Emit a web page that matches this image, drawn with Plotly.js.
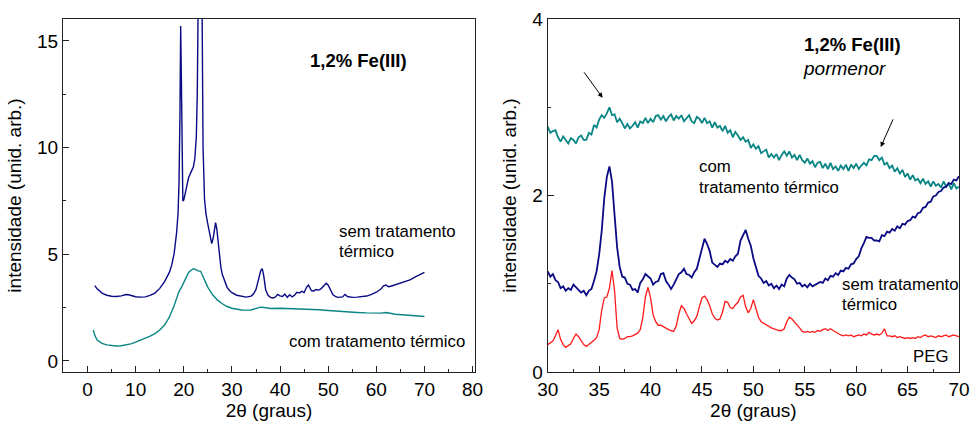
<!DOCTYPE html>
<html>
<head>
<meta charset="utf-8">
<script src="https://cdn.plot.ly/plotly-3.0.1.min.js"></script>
<style>
  html, body { margin: 0; padding: 0; background: #fff; }
  #chart { width: 970px; height: 423px; }
</style>
</head>
<body>
<div id="chart"></div>
<script>
// ---- Full pattern, 2θ from 1° to 70° ----
const fullAngleSem = [1.5,2,3,4,5,6,7,8,8.5,9,10,11,12,13,14,15,16,17,17.5,18,18.5,18.8,19.0,19.2,19.35,19.45,19.6,19.8,20.0,20.5,21.0,21.5,22.0,22.3,22.6,22.8,23.0,23.3,23.6,23.8,24.0,24.3,24.6,25.0,25.4,25.8,26.1,26.4,26.6,26.85,27.1,27.4,27.7,28.0,28.5,29,29.5,30,31,32,33,34,34.5,35,35.5,36,36.3,36.6,37.0,37.5,38,38.5,39,39.5,40,40.5,41,41.5,42,42.5,43,43.5,44,44.5,45,45.5,45.9,46.5,47,47.5,48,48.5,49,49.6,50,50.5,51,51.5,52,53,53.5,54,55,56,57,58,59,60,61,61.5,62,62.5,63,64,65,66,67,68,69,70];
const fullSem = [3.53,3.38,3.18,3.08,3.03,3.02,3.05,3.11,3.10,3.06,3.01,2.99,3.00,3.07,3.18,3.40,3.72,4.15,4.50,5.05,6.0,6.9,8.3,11.5,15.7,14.0,9.5,7.5,7.55,8.1,8.6,8.85,9.1,9.5,10.5,12.5,17,24,22,16.5,10.0,7.6,6.9,6.4,5.9,5.5,5.75,6.3,6.48,6.2,5.6,4.9,4.4,4.05,3.7,3.45,3.3,3.2,3.08,3.02,2.99,3.04,3.15,3.35,3.75,4.25,4.32,4.0,3.35,3.08,2.98,2.95,2.99,3.12,3.05,3.02,3.13,2.98,3.10,3.0,3.08,3.22,3.18,3.26,3.2,3.45,3.56,3.30,3.28,3.35,3.32,3.38,3.5,3.64,3.55,3.3,3.1,3.02,2.98,3.0,3.12,3.02,2.98,2.99,3.0,3.04,3.12,3.22,3.38,3.52,3.56,3.48,3.5,3.58,3.65,3.72,3.80,3.93,4.05,4.15];

const fullAngleCom = [1.2,1.5,2,3,4,5,6,7,8,9,10,11,12,13,14,15,16,17,18,19,19.5,20,20.5,21,21.5,22,22.5,23,23.5,24,24.5,25,26,27,28,29,30,31,32,33,34,35,36,37,38,40,42,44,46,48,50,52,54,56,58,60,61,62,63,64,66,68,70];
const fullCom = [1.45,1.2,0.98,0.82,0.75,0.71,0.70,0.71,0.75,0.80,0.88,0.97,1.06,1.16,1.28,1.45,1.68,2.05,2.6,3.25,3.45,3.7,3.95,4.15,4.25,4.32,4.28,4.22,4.2,3.95,3.68,3.45,3.1,2.85,2.68,2.55,2.47,2.42,2.39,2.38,2.39,2.46,2.52,2.49,2.46,2.47,2.46,2.45,2.44,2.40,2.36,2.32,2.29,2.27,2.25,2.23,2.24,2.27,2.22,2.19,2.15,2.12,2.08];

// ---- Detail, 2θ from 30° to 70° in steps of 0.25° (four readings per degree) ----
const detailStart = 30;
const detailStep = 0.25;
const detailCom = [
  2.78,2.71,2.73,2.74, 2.66,2.61,2.67,2.63, 2.59,2.65,2.63,2.59, 2.66,2.68,2.63,2.63,
  2.71,2.69,2.80,2.77, 2.86,2.91,2.88,2.93, 3.00,2.91,2.92,2.83, 2.87,2.82,2.76,2.81,
  2.76,2.79,2.83,2.77, 2.84,2.82,2.88,2.82, 2.87,2.83,2.90,2.91, 2.86,2.90,2.84,2.89,
  2.92,2.85,2.90,2.87, 2.91,2.84,2.88,2.91, 2.84,2.82,2.89,2.87, 2.82,2.88,2.82,2.84,
  2.77,2.83,2.77,2.79, 2.73,2.79,2.71,2.74, 2.66,2.72,2.68,2.63, 2.66,2.61,2.63,2.54,
  2.58,2.53,2.56,2.48, 2.50,2.52,2.43,2.47, 2.43,2.47,2.40,2.46, 2.50,2.45,2.50,2.43,
  2.46,2.40,2.46,2.40, 2.37,2.42,2.36,2.39, 2.32,2.37,2.38,2.31, 2.36,2.30,2.37,2.30,
  2.33,2.28,2.34,2.30, 2.35,2.28,2.35,2.31, 2.36,2.30,2.34,2.37, 2.34,2.41,2.40,2.45,
  2.45,2.40,2.43,2.35, 2.37,2.31,2.34,2.27, 2.31,2.25,2.29,2.21, 2.25,2.18,2.23,2.17,
  2.19,2.14,2.19,2.13, 2.16,2.10,2.16,2.11, 2.13,2.09,2.16,2.10, 2.14,2.07,2.14,2.08,
  2.10];
const detailSem = [
  1.14,1.08,1.11,1.04, 1.02,0.95,0.97,0.92, 0.95,0.93,0.99,0.96, 0.94,0.90,0.92,0.87,
  0.92,0.94,1.03,1.14, 1.33,1.60,1.97,2.21, 2.33,2.16,1.78,1.41, 1.19,1.08,1.07,1.00,
  0.99,0.93,0.94,0.90, 1.01,1.05,1.11,1.08, 1.06,0.99,1.02,1.03, 1.11,1.12,1.03,0.99,
  0.94,0.99,1.05,1.11, 1.13,1.17,1.11,1.10, 1.07,1.13,1.17,1.29, 1.38,1.51,1.45,1.37,
  1.24,1.22,1.19,1.23, 1.22,1.26,1.24,1.28, 1.26,1.31,1.34,1.49, 1.56,1.61,1.51,1.43,
  1.29,1.19,1.09,1.06, 1.01,1.03,0.98,1.00, 0.95,0.98,0.94,0.99, 0.97,1.06,1.10,1.07,
  1.05,1.00,1.01,0.97, 0.99,0.96,1.00,0.97, 0.99,1.00,1.02,1.01, 1.06,1.04,1.09,1.08,
  1.12,1.10,1.15,1.14, 1.18,1.17,1.22,1.23, 1.28,1.31,1.40,1.46, 1.53,1.52,1.52,1.49,
  1.49,1.48,1.55,1.54, 1.59,1.58,1.62,1.60, 1.65,1.63,1.68,1.67, 1.71,1.72,1.76,1.75,
  1.80,1.81,1.86,1.87, 1.92,1.93,1.99,2.00, 2.04,2.05,2.09,2.10, 2.14,2.13,2.18,2.17,
  2.22];
const detailPeg = [
  0.31,0.33,0.35,0.41, 0.48,0.37,0.31,0.28, 0.30,0.32,0.38,0.43, 0.40,0.35,0.31,0.29,
  0.31,0.33,0.36,0.39, 0.48,0.70,0.84,0.85, 0.95,1.15,0.92,0.50, 0.38,0.37,0.38,0.40,
  0.40,0.41,0.43,0.44, 0.48,0.62,0.85,0.96, 0.84,0.65,0.57,0.53, 0.53,0.51,0.50,0.48,
  0.47,0.46,0.52,0.66, 0.75,0.72,0.66,0.60, 0.55,0.58,0.63,0.74, 0.84,0.86,0.82,0.75,
  0.66,0.61,0.59,0.60, 0.68,0.80,0.79,0.73, 0.72,0.76,0.79,0.85, 0.87,0.74,0.67,0.72,
  0.82,0.72,0.62,0.57, 0.55,0.53,0.51,0.50, 0.49,0.48,0.47,0.47, 0.49,0.57,0.62,0.60,
  0.57,0.53,0.50,0.46, 0.45,0.46,0.45,0.46, 0.45,0.47,0.46,0.48, 0.49,0.47,0.49,0.47,
  0.45,0.43,0.42,0.41, 0.42,0.41,0.42,0.40, 0.41,0.42,0.41,0.43, 0.42,0.45,0.43,0.42,
  0.43,0.42,0.44,0.49, 0.41,0.41,0.40,0.41, 0.39,0.40,0.39,0.38, 0.39,0.38,0.39,0.38,
  0.40,0.39,0.41,0.42, 0.40,0.41,0.40,0.39, 0.41,0.40,0.41,0.42, 0.40,0.41,0.42,0.41,
  0.40];

const NAVY = '#0a0a85';
const TEAL = '#0a8585';
const RED = '#ff1a1a';
const FONT = 'Liberation Sans, Arial, Helvetica, sans-serif';

const detailAngles = detailSem.map((_, i) => detailStart + i * detailStep);

const traces = [
  {x: fullAngleSem, y: fullSem, xaxis: 'x', yaxis: 'y', mode: 'lines', line: {color: NAVY, width: 1.4}},
  {x: fullAngleCom, y: fullCom, xaxis: 'x', yaxis: 'y', mode: 'lines', line: {color: TEAL, width: 1.4}},
  {x: detailAngles, y: detailCom, xaxis: 'x2', yaxis: 'y2', mode: 'lines', line: {color: TEAL, width: 1.8}},
  {x: detailAngles, y: detailSem, xaxis: 'x2', yaxis: 'y2', mode: 'lines', line: {color: NAVY, width: 1.8}},
  {x: detailAngles, y: detailPeg, xaxis: 'x2', yaxis: 'y2', mode: 'lines', line: {color: RED, width: 1.3}}
];

function axisStyle(extra) {
  return Object.assign({
    showline: true, mirror: true, linecolor: '#222', linewidth: 1,
    showgrid: false, zeroline: false,
    ticks: 'inside', ticklen: 6, tickwidth: 1, tickcolor: '#222',
    tickfont: {family: FONT, size: 19, color: '#000'}
  }, extra);
}

const txt = (size, extra) => Object.assign({family: FONT, size: size, color: '#000'}, extra || {});

const annotations = [
  {xref: 'x', yref: 'y', x: 56.4, y: 14.1, text: '<b>1,2% Fe(III)</b>', showarrow: false, font: txt(18.5)},
  {xref: 'x', yref: 'y', x: 51.8, y: 6.06, text: 'sem tratamento', xanchor: 'left', showarrow: false, font: txt(16.8)},
  {xref: 'x', yref: 'y', x: 51.8, y: 5.12, text: 'térmico', xanchor: 'left', showarrow: false, font: txt(16.8)},
  {xref: 'x', yref: 'y', x: 41.5, y: 0.9, text: 'com tratamento térmico', xanchor: 'left', showarrow: false, font: txt(16.8)},

  {xref: 'x2', yref: 'y2', x: 54.7, y: 3.71, text: '<b>1,2% Fe(III)</b>', xanchor: 'left', showarrow: false, font: txt(18.5)},
  {xref: 'x2', yref: 'y2', x: 54.6, y: 3.44, text: '<i>pormenor</i>', xanchor: 'left', showarrow: false, font: txt(19)},
  {xref: 'x2', yref: 'y2', x: 44.54, y: 2.327, text: 'com', xanchor: 'left', showarrow: false, font: txt(16.8)},
  {xref: 'x2', yref: 'y2', x: 44.54, y: 2.093, text: 'tratamento térmico', xanchor: 'left', showarrow: false, font: txt(16.8)},
  {xref: 'x2', yref: 'y2', x: 58.4, y: 0.992, text: 'sem tratamento', xanchor: 'left', showarrow: false, font: txt(16.8)},
  {xref: 'x2', yref: 'y2', x: 58.4, y: 0.768, text: 'térmico', xanchor: 'left', showarrow: false, font: txt(16.8)},
  {xref: 'x2', yref: 'y2', x: 65.37, y: 0.178, text: 'PEG', xanchor: 'left', showarrow: false, font: txt(16.8)},

  // arrows pointing at the small reflections of the treated sample
  {xref: 'x2', yref: 'y2', axref: 'x2', ayref: 'y2', x: 35.34, y: 3.107, ax: 33.43, ay: 3.413,
   text: '', showarrow: true, arrowhead: 2, arrowsize: 1, arrowwidth: 1, arrowcolor: '#000'},
  {xref: 'x2', yref: 'y2', axref: 'x2', ayref: 'y2', x: 62.39, y: 2.55, ax: 63.65, ay: 2.88,
   text: '', showarrow: true, arrowhead: 2, arrowsize: 1, arrowwidth: 1, arrowcolor: '#000'}
];

const layout = {
  width: 970, height: 423,
  margin: {l: 63, r: 11, t: 19, b: 51},
  paper_bgcolor: '#fff', plot_bgcolor: '#fff',
  showlegend: false,
  font: {family: FONT, color: '#000'},
  xaxis: axisStyle({
    domain: [0, 0.4598], anchor: 'y', range: [-5.1, 80.5],
    tick0: 0, dtick: 10,
    minor: {ticks: 'inside', ticklen: 3, tick0: 0, dtick: 5, tickcolor: '#222'},
    title: {text: '2θ (graus)', font: txt(19), standoff: 4}
  }),
  yaxis: axisStyle({
    domain: [0, 1], anchor: 'x', range: [-0.52, 16.03],
    tick0: 0, dtick: 5,
    minor: {ticks: 'inside', ticklen: 3, tick0: 0, dtick: 2.5, tickcolor: '#222'},
    title: {text: 'intensidade (unid. arb.)', font: txt(19), standoff: 10}
  }),
  xaxis2: axisStyle({
    domain: [0.541, 1], anchor: 'y2', range: [30, 70],
    tick0: 30, dtick: 5,
    minor: {ticks: 'inside', ticklen: 3, tick0: 30, dtick: 2.5, tickcolor: '#222'},
    title: {text: '2θ (graus)', font: txt(19), standoff: 4}
  }),
  yaxis2: axisStyle({
    domain: [0, 1], anchor: 'x2', range: [0, 4],
    tick0: 0, dtick: 2,
    minor: {ticks: 'inside', ticklen: 3, tick0: 0, dtick: 1, tickcolor: '#222'},
    title: {text: 'intensidade (unid. arb.)', font: txt(19), standoff: 10}
  }),
  annotations: annotations
};

Plotly.newPlot('chart', traces, layout, {staticPlot: true, displayModeBar: false});
</script>
</body>
</html>
